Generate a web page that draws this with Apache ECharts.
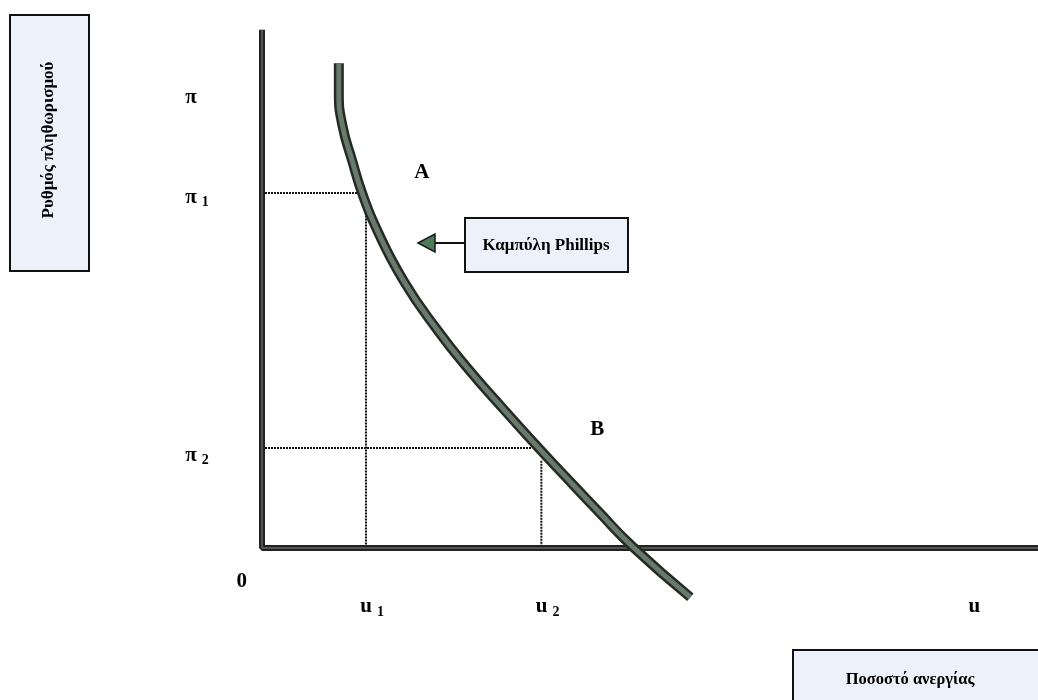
<!DOCTYPE html>
<html>
<head>
<meta charset="utf-8">
<script src="https://cdn.jsdelivr.net/npm/echarts@6/dist/echarts.min.js"></script>
<style>
  html, body { margin: 0; padding: 0; background: #fff; }
  #chart { width: 1038px; height: 700px; }
</style>
</head>
<body>
<div id="chart"></div>
<script>
// Phillips curve (unemployment u on x, inflation pi on y)
const curveU  = [9.9, 9.9, 10.4, 11.6, 12.9, 14.7, 18.2, 22.6, 26.8, 31.1, 35.4, 38.8, 43.3, 47.8, 55.2];
const curvePi = [94.5, 88.7, 82.1, 75.6, 69.2, 62.4, 52.2, 42.5, 34.5, 27.1, 19.9, 14.4, 7.2, 0.2, -9.6];

// the two points
const pi1 = 69.2, u1 = 13.4, pi1End = 12.4, u1Top = 66;
const pi2 = 19.5, u2 = 36.0, pi2End = 34.8, u2Top = 17;

// tick labels
const yTickText   = ['{b|π}', '{b|π}{s|1}', '{b|π}{s|2}'];
const yTickValues = [87.8, 68.4, 18.0];
const xTickText   = ['{b|0}', '{b|u}{s|1}', '{b|u}{s|2}', '{b|u}'];
const xTickValues = [-2.6, 14.2, 36.8, 91.8];
const pointNames  = ['A', 'B'];
const pointU      = [20.6, 43.2];
const pointPi     = [73.1, 23.0];

const serif = '"Liberation Serif", "DejaVu Serif", serif';
const rich = {
  b: { fontFamily: serif, fontWeight: 'bold', fontSize: 21, color: '#000' },
  s: { fontFamily: serif, fontWeight: 'bold', fontSize: 14, color: '#000', padding: [10, 0, 0, 5] }
};
const tickLabel = { show: true, position: 'inside', color: '#000', opacity: 1, textBorderWidth: 0, rich: rich };

const dotted = { color: '#111', width: 2, type: [2, 1] };

const chart = echarts.init(document.getElementById('chart'));
chart.setOption({
  backgroundColor: '#fff',
  animation: false,
  grid: { left: 262, right: 0, top: 35, bottom: 49.4 },
  xAxis: { type: 'value', min: 0, max: 100, show: false },
  yAxis: { type: 'value', min: -20, max: 100, show: false },
  graphic: [
    // y axis name box
    { type: 'rect', shape: { x: 10, y: 15, width: 79, height: 256 },
      style: { fill: '#edf2fa', stroke: '#111', lineWidth: 2 } },
    { type: 'text', x: 49, y: 140, rotation: Math.PI / 2, origin: [0, 0],
      style: { text: 'Ρυθμός πληθωρισμού', fontFamily: serif, fontWeight: 'bold', fontSize: 17,
        fill: '#000', align: 'center', verticalAlign: 'middle' } },
    // Phillips label box with arrow
    { type: 'rect', shape: { x: 465, y: 218, width: 163, height: 54 },
      style: { fill: '#edf2fa', stroke: '#111', lineWidth: 2 } },
    { type: 'text', x: 546, y: 246,
      style: { text: 'Καμπύλη Phillips', fontFamily: serif, fontWeight: 'bold', fontSize: 17,
        fill: '#000', align: 'center', verticalAlign: 'middle' } },
    { type: 'line', shape: { x1: 432, y1: 243, x2: 465, y2: 243 },
      style: { stroke: '#111', lineWidth: 2 } },
    { type: 'polygon', shape: { points: [[418, 243], [435, 234], [435, 252]] },
      style: { fill: '#4d7a57', stroke: '#1a1a1a', lineWidth: 1.5 } },
    // x axis name box
    { type: 'rect', shape: { x: 793, y: 650, width: 260, height: 60 },
      style: { fill: '#edf2fa', stroke: '#111', lineWidth: 2 } },
    { type: 'text', x: 910, y: 680,
      style: { text: 'Ποσοστό ανεργίας', fontFamily: serif, fontWeight: 'bold', fontSize: 16.5,
        fill: '#000', align: 'center', verticalAlign: 'middle' } }
  ],
  series: [
    // axes
    { type: 'line', clip: false, symbol: 'none', z: 3,
      data: [[0, 101], [0, 0], [100, 0]],
      lineStyle: { color: '#222', width: 6 } },
    { type: 'line', clip: false, symbol: 'none', z: 3,
      data: [[0, 101], [0, 0], [100, 0]],
      lineStyle: { color: '#666', width: 1.5 } },
    // guide lines
    { type: 'line', clip: false, symbol: 'none', z: 2, data: [[0, pi1], [pi1End, pi1]], lineStyle: dotted },
    { type: 'line', clip: false, symbol: 'none', z: 2, data: [[u1, u1Top], [u1, 0]], lineStyle: dotted },
    { type: 'line', clip: false, symbol: 'none', z: 2, data: [[0, pi2], [pi2End, pi2]], lineStyle: dotted },
    { type: 'line', clip: false, symbol: 'none', z: 2, data: [[u2, u2Top], [u2, 0]], lineStyle: dotted },
    // Phillips curve
    { type: 'line', clip: false, symbol: 'none', smooth: 0.5, z: 5,
      data: curveU.map((u, i) => [u, curvePi[i]]),
      lineStyle: { color: '#262a26', width: 10, cap: 'butt' } },
    { type: 'line', clip: false, symbol: 'none', smooth: 0.5, z: 6,
      data: curveU.map((u, i) => [u, curvePi[i]]),
      lineStyle: { color: '#687a6c', width: 5, cap: 'butt' } },
    // labels
    { type: 'scatter', clip: false, symbolSize: 0, z: 7, itemStyle: { opacity: 1 },
      data: yTickValues.map((v, i) => ({ value: [-9.9, v], label: { formatter: yTickText[i] } })),
      label: Object.assign({}, tickLabel, { position: 'right', distance: 0 }) },
    { type: 'scatter', clip: false, symbolSize: 0, z: 7, itemStyle: { opacity: 1 },
      data: xTickValues.map((v, i) => ({ value: [v, i === 0 ? -6.5 : -11.5], label: { formatter: xTickText[i] } })),
      label: tickLabel },
    { type: 'scatter', clip: false, symbolSize: 0, z: 7, itemStyle: { opacity: 1 },
      data: pointU.map((u, i) => ({ value: [u, pointPi[i]], label: { formatter: '{b|' + pointNames[i] + '}' } })),
      label: tickLabel }
  ]
});
</script>
</body>
</html>
